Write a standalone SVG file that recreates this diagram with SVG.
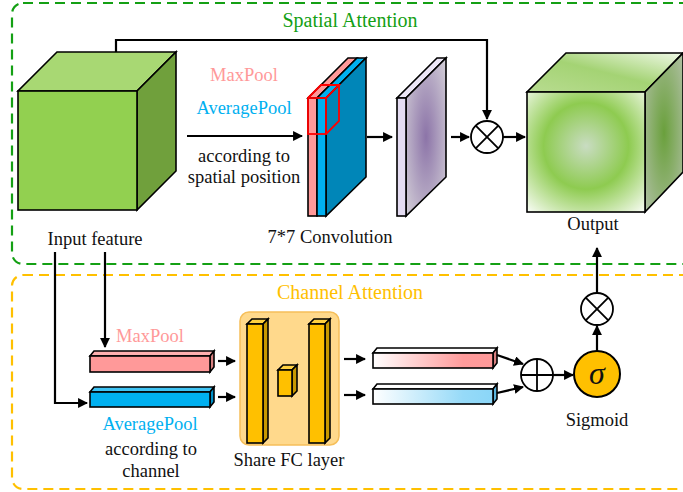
<svg xmlns="http://www.w3.org/2000/svg" width="683" height="492" viewBox="0 0 683 492">
<style>
text{font-family:'Liberation Serif','Times New Roman',serif;font-size:18.5px;fill:#111;text-anchor:middle}
.ttl{font-size:20px}
.ol{stroke:#000;stroke-width:1.6;stroke-linejoin:miter}
.ln{stroke:#000;stroke-width:2.2;fill:none}
.op{fill:#fff;stroke:#000;stroke-width:1.8}
</style>
<defs>
<marker id="ah" viewBox="0 0 10 10" refX="9" refY="5" markerWidth="4.5" markerHeight="4.5" orient="auto" markerUnits="strokeWidth">
<path d="M0,0 L10,5 L0,10 z" fill="#000"/>
</marker>
<radialGradient id="outF" cx="0.5" cy="0.45" r="0.72">
<stop offset="0" stop-color="#c9dcc2"/>
<stop offset="0.5" stop-color="#8ecb50"/>
<stop offset="1" stop-color="#f4faee"/>
</radialGradient>
<linearGradient id="outT" x1="0" y1="1" x2="1" y2="0">
<stop offset="0" stop-color="#b8dc90"/>
<stop offset="0.5" stop-color="#a4d374"/>
<stop offset="1" stop-color="#f0f9e8"/>
</linearGradient>
<radialGradient id="outS" cx="0.5" cy="0.5" r="0.7">
<stop offset="0" stop-color="#6aa03c"/>
<stop offset="1" stop-color="#b0c0a4"/>
</radialGradient>
<radialGradient id="purS" cx="0.5" cy="0.5" r="0.7">
<stop offset="0" stop-color="#8c74a8"/>
<stop offset="1" stop-color="#d4d0d8"/>
</radialGradient>
<linearGradient id="pkG" x1="0" y1="0" x2="1" y2="0">
<stop offset="0" stop-color="#ffffff"/>
<stop offset="0.75" stop-color="#ff9b9b"/>
<stop offset="1" stop-color="#ff9999"/>
</linearGradient>
<linearGradient id="blG" x1="0" y1="0" x2="1" y2="0">
<stop offset="0" stop-color="#ffffff"/>
<stop offset="0.75" stop-color="#96daf8"/>
<stop offset="1" stop-color="#8ad6f8"/>
</linearGradient>
</defs>

<g id="regions">
<rect x="12" y="3" width="700" height="261" rx="11" fill="none" stroke="#14a014" stroke-width="2.2" stroke-dasharray="10,6"/>
<rect x="12" y="275" width="700" height="214" rx="11" fill="none" stroke="#ffc000" stroke-width="2.2" stroke-dasharray="10,6"/>
<text class="ttl" x="350" y="27" style="fill:#14a014">Spatial Attention</text>
<text class="ttl" x="350" y="299" style="fill:#ffc000">Channel Attention</text>
</g>

<g id="input-feature">
<polygon class="ol" points="18,91 137,91 176,52 57,52" fill="#a8d873"/>
<polygon class="ol" points="137,91 176,52 176,171 137,210" fill="#70a03c"/>
<rect class="ol" x="18" y="91" width="119" height="119" fill="#92d050"/>
<text x="95" y="245">Input feature</text>
</g>

<g id="pool-labels-spatial">
<text x="244" y="81" style="fill:#ff9999">MaxPool</text>
<text x="244" y="114" style="fill:#00b0f0">AveragePool</text>
<text x="244" y="162">according to</text>
<text x="244" y="183">spatial position</text>
</g>

<g id="conv-stack">
<polygon class="ol" points="308,98 317,98 357,58 348,58" fill="#ff9999"/>
<polygon class="ol" points="317,98 326,98 366,58 357,58" fill="#00b0f0"/>
<polygon class="ol" points="326,98 366,58 366,177 326,216" fill="#0086b8"/>
<rect class="ol" x="308" y="98" width="9" height="118" fill="#ff9999"/>
<rect class="ol" x="317" y="98" width="9" height="118" fill="#00b0f0"/>
<g fill="none" stroke="#ff0000" stroke-width="1.8">
<rect x="308" y="98" width="18" height="36"/>
<polyline points="308,98 321,85 339,85 326,98"/>
<polyline points="339,85 339,121 326,134"/>
</g>
<text x="330" y="243">7*7 Convolution</text>
</g>

<g id="attention-map">
<polygon class="ol" points="397,98 406,98 446,58 437,58" fill="#ece6f6"/>
<polygon class="ol" points="406,98 446,58 446,177 406,216" fill="url(#purS)"/>
<rect class="ol" x="397" y="98" width="9" height="118" fill="#e4dcf2"/>
</g>

<g id="mul-spatial">
<circle class="op" cx="487" cy="137" r="16"/>
<path d="M475.7,125.7 L498.3,148.3 M498.3,125.7 L475.7,148.3" stroke="#000" stroke-width="1.8"/>
</g>

<g id="output">
<polygon class="ol" points="527,92 645,92 683,53 566,53" fill="url(#outT)"/>
<polygon class="ol" points="645,92 683,53 683,172 645,212" fill="url(#outS)"/>
<rect class="ol" x="527" y="92" width="118" height="120" fill="url(#outF)"/>
<text x="593" y="230">Output</text>
</g>

<g id="channel-pools">
<text x="150" y="342" style="fill:#ff9999">MaxPool</text>
<polygon class="ol" points="90,356 210,356 214,351 94,351" fill="#ffb0b0"/>
<polygon class="ol" points="210,356 214,351 214,367 210,372" fill="#d88080"/>
<rect class="ol" x="90" y="356" width="120" height="16" fill="#ff9999"/>
<polygon class="ol" points="90,392 210,392 214,387 94,387" fill="#40c4f4"/>
<polygon class="ol" points="210,392 214,387 214,402 210,407" fill="#0090c8"/>
<rect class="ol" x="90" y="392" width="120" height="15" fill="#00b0f0"/>
<text x="150" y="430" style="fill:#00b0f0">AveragePool</text>
<text x="151" y="455">according to</text>
<text x="151" y="477">channel</text>
</g>

<g id="share-fc">
<rect x="240" y="312" width="99" height="133" rx="9" fill="#ffd98c" stroke="#f6bf5a" stroke-width="1.5"/>
<polygon class="ol" points="247,324 263,324 268,319 252,319" fill="#ffd040"/>
<polygon class="ol" points="263,324 268,319 268,438 263,443" fill="#c89800"/>
<rect class="ol" x="247" y="324" width="16" height="119" fill="#ffc000"/>
<polygon class="ol" points="309,324 325,324 330,319 314,319" fill="#ffd040"/>
<polygon class="ol" points="325,324 330,319 330,438 325,443" fill="#c89800"/>
<rect class="ol" x="309" y="324" width="16" height="119" fill="#ffc000"/>
<polygon class="ol" points="278,370 292,370 297,365 283,365" fill="#ffd040"/>
<polygon class="ol" points="292,370 297,365 297,391 292,396" fill="#c89800"/>
<rect class="ol" x="278" y="370" width="14" height="26" fill="#ffc000"/>
<text x="289" y="466">Share FC layer</text>
</g>

<g id="fc-outputs">
<polygon class="ol" points="373,353 493,353 497,348 377,348" fill="#fff"/>
<polygon class="ol" points="493,353 497,348 497,363 493,368" fill="#d88080"/>
<rect class="ol" x="373" y="353" width="120" height="15" fill="url(#pkG)"/>
<polygon class="ol" points="373,389 493,389 497,384 377,384" fill="#fff"/>
<polygon class="ol" points="493,389 497,384 497,399 493,404" fill="#5ab4dc"/>
<rect class="ol" x="373" y="389" width="120" height="15" fill="url(#blG)"/>
</g>

<g id="add">
<circle class="op" cx="537" cy="375" r="16"/>
<path d="M521,375 L553,375 M537,359 L537,391" stroke="#000" stroke-width="1.8"/>
</g>

<g id="sigmoid">
<circle cx="597" cy="374" r="23" fill="#ffc000" stroke="#000" stroke-width="2"/>
<text x="597" y="384" style="font-size:32px;font-style:italic">σ</text>
<text x="597" y="426">Sigmoid</text>
</g>

<g id="mul-channel">
<circle class="op" cx="597" cy="309" r="16"/>
<path d="M585.7,297.7 L608.3,320.3 M608.3,297.7 L585.7,320.3" stroke="#000" stroke-width="1.8"/>
</g>

<g id="connectors">
<polyline class="ln" points="116,52 116,40 487,40 487,119" marker-end="url(#ah)"/>
<line class="ln" x1="187" y1="136" x2="302" y2="136" marker-end="url(#ah)"/>
<line class="ln" x1="367" y1="137" x2="392" y2="137" marker-end="url(#ah)"/>
<line class="ln" x1="451" y1="137" x2="469" y2="137" marker-end="url(#ah)"/>
<line class="ln" x1="503" y1="137" x2="525" y2="137" marker-end="url(#ah)"/>
<polyline class="ln" points="55,252 55,403 87,403" marker-end="url(#ah)"/>
<line class="ln" x1="105" y1="252" x2="105" y2="347" marker-end="url(#ah)"/>
<line class="ln" x1="218" y1="361" x2="235" y2="361" marker-end="url(#ah)"/>
<line class="ln" x1="218" y1="397" x2="235" y2="397" marker-end="url(#ah)"/>
<line class="ln" x1="344" y1="359" x2="365" y2="359" marker-end="url(#ah)"/>
<line class="ln" x1="344" y1="395" x2="365" y2="395" marker-end="url(#ah)"/>
<line class="ln" x1="497" y1="355" x2="523" y2="364" marker-end="url(#ah)"/>
<line class="ln" x1="497" y1="393" x2="523" y2="387" marker-end="url(#ah)"/>
<line class="ln" x1="553" y1="375" x2="573" y2="375" marker-end="url(#ah)"/>
<line class="ln" x1="597" y1="351" x2="597" y2="326" marker-end="url(#ah)"/>
<line class="ln" x1="597" y1="293" x2="597" y2="248" marker-end="url(#ah)"/>
</g>
</svg>
